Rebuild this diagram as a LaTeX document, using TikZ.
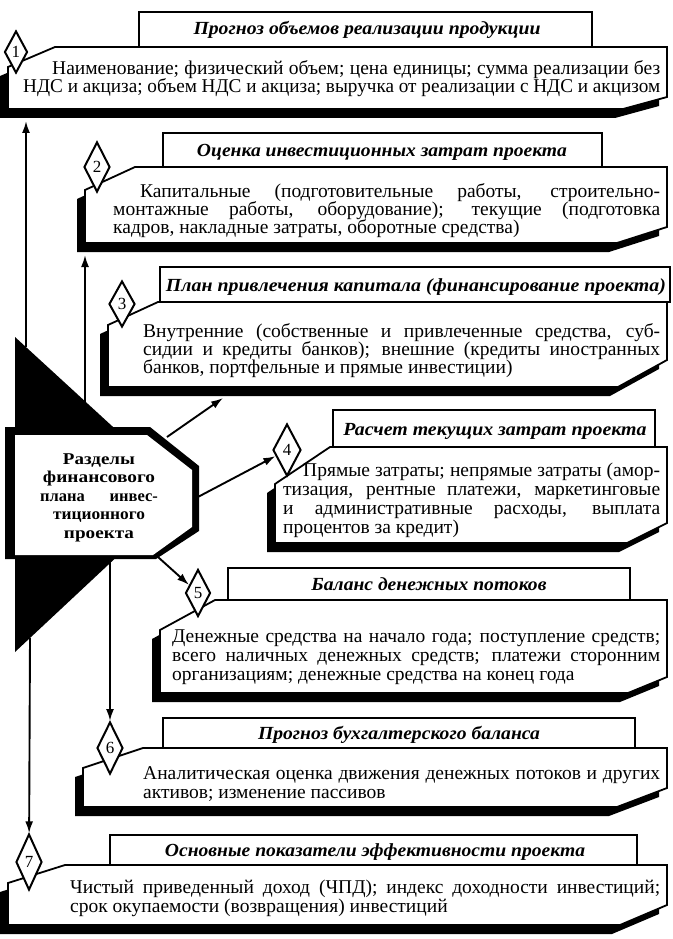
\documentclass[tikz,border=0pt]{standalone}
\usepackage{graphicx}
\usepackage{fontspec}
\setmainfont{Liberation Serif}
\usetikzlibrary{shapes.geometric,arrows.meta}
\newsavebox\linebox
\newcommand\jline[2]{\sbox\linebox{#2}\ifdim\wd\linebox>#1\relax\resizebox{#1}{\height}{#2}\else\makebox[#1][s]{#2}\fi}
\newcommand\fitto[2]{\resizebox{#1}{\height}{#2}}
\newcommand\secbox[8]{%
  \begin{scope}[shift={(-8,9)}]\fill[black] (#1,#4) -- (#1,#5) -- (#6,#2) -- (#3,#2) -- (#3,#7) -- (#8,#4) -- cycle;\end{scope}
  \draw[mainbox] (#1,#4) -- (#1,#5) -- (#6,#2) -- (#3,#2) -- (#3,#7) -- (#8,#4) -- cycle;}
\begin{document}
\begin{tikzpicture}[x=1pt,y=-1pt,
  mainbox/.style={fill=white,draw=black,line width=1.8pt,line join=miter},
  titlebox/.style={fill=white,draw=black,line width=1.8pt},
  ttl/.style={font=\fontsize{18.5}{19}\selectfont\bfseries\itshape,inner sep=0pt,anchor=base},
  body/.style={font=\fontsize{19.5}{20}\selectfont,inner sep=0pt,anchor=base west},
  num/.style={diamond,draw=black,fill=white,line width=2pt,inner sep=0pt,font=\fontsize{17}{17}\selectfont},
  arr/.style={line width=1.9pt,-{Latex[length=12pt,width=8pt]}},
  octtxt/.style={font=\fontsize{16.5}{17}\selectfont\bfseries,inner sep=0pt,anchor=base}
]
\path[use as bounding box, fill=white] (0,0) rectangle (672,939);

% central black triangle and octagon
\fill[black] (15,337) -- (185,493) -- (15,652) -- cycle;
\fill[black] (5,427) -- (150,427) -- (199,466) -- (199,531) -- (156,559) -- (5,559) -- cycle;
\fill[white] (15,435) -- (147,435) -- (192,470) -- (192,527) -- (153,555) -- (15,555) -- cycle;
\node[octtxt] (o1) at (99,464) {\fitto{72pt}{Разделы}};
\node[octtxt] (o2) at (99,482.5) {\fitto{112pt}{финансового}};
\node[octtxt] (o3) at (99,501) {\jline{118pt}{плана инвес-}};
\node[octtxt] (o4) at (99,519.5) {\fitto{92pt}{тиционного}};
\node[octtxt] (o5) at (99,538) {\fitto{70pt}{проекта}};

% section boxes: L T R B C E V S
\secbox{8}{47}{667}{109}{67}{55}{97}{623}
\secbox{85}{167}{667}{243}{190}{135}{227}{617}
\secbox{108}{302}{667}{387}{325}{158}{360}{618}
\secbox{275}{447}{667}{543}{484}{330}{523}{627}
\secbox{160}{600}{667}{693}{630}{215}{677}{628}
\secbox{83}{748}{667}{807}{768}{143}{788}{617}
\secbox{8}{865}{667}{925}{883}{65}{905}{620}

% title boxes
\draw[titlebox] (139,12) rectangle (592,47);
\draw[titlebox] (163,133) rectangle (602,167);
\draw[titlebox] (160,267) rectangle (670,302);
\draw[titlebox] (333,410) rectangle (655,447);
\draw[titlebox] (228,568) rectangle (630,600);
\draw[titlebox] (163,718) rectangle (635,748);
\draw[titlebox] (110,835) rectangle (637,865);

\node[ttl] (h1) at (367,35) {\fitto{347pt}{Прогноз объемов реализации продукции}};
\node[ttl] (h2) at (382,156) {\fitto{370pt}{Оценка инвестиционных затрат проекта}};
\node[ttl] (h3) at (416,291) {\fitto{500pt}{План привлечения капитала (финансирование проекта)}};
\node[ttl] (h4) at (495,435) {\fitto{303pt}{Расчет текущих затрат проекта}};
\node[ttl] (h5) at (429,590) {\fitto{235pt}{Баланс денежных потоков}};
\node[ttl] (h6) at (399,739) {\fitto{282pt}{Прогноз бухгалтерского баланса}};
\node[ttl] (h7) at (375,856) {\fitto{420pt}{Основные показатели эффективности проекта}};

% body texts
\node[body] (t1a) at (52,75) {\jline{608pt}{Наименование; физический объем; цена единицы; сумма реализации без}};
\node[body] (t1b) at (23,93) {\jline{637pt}{НДС и акциза; объем НДС и акциза; выручка от реализации с НДС и акцизом}};

\node[body] (t2a) at (140,197) {\jline{520pt}{Капитальные (подготовительные работы, строительно-}};
\node[body] (t2b) at (113,215) {\jline{547pt}{монтажные работы, оборудование); текущие (подготовка}};
\node[body] (t2c) at (113,233) {кадров, накладные затраты, оборотные средства)};

\node[body] (t3a) at (143,337) {\jline{517pt}{Внутренние (собственные и привлеченные средства, суб-}};
\node[body] (t3b) at (143,355) {\jline{517pt}{сидии и кредиты банков); внешние (кредиты иностранных}};
\node[body] (t3c) at (143,373) {банков, портфельные и прямые инвестиции)};

\node[body] (t4a) at (303,476) {\jline{357pt}{Прямые затраты; непрямые затраты (амор-}};
\node[body] (t4b) at (283,495) {\jline{377pt}{тизация, рентные платежи, маркетинговые}};
\node[body] (t4c) at (283,514) {\jline{377pt}{и административные расходы, выплата}};
\node[body] (t4d) at (283,533) {процентов за кредит)};

\node[body] (t5a) at (172,642) {\jline{488pt}{Денежные средства на начало года; поступление средств;}};
\node[body] (t5b) at (172,661) {\jline{488pt}{всего наличных денежных средств; платежи сторонним}};
\node[body] (t5c) at (172,680) {организациям; денежные средства на конец года};

\node[body] (t6a) at (143,779) {\jline{517pt}{Аналитическая оценка движения денежных потоков и других}};
\node[body] (t6b) at (143,798) {активов; изменение пассивов};

\node[body] (t7a) at (70,893) {\jline{590pt}{Чистый приведенный доход (ЧПД); индекс доходности инвестиций;}};
\node[body] (t7b) at (70,912) {срок окупаемости (возвращения) инвестиций};

% diamonds
\node[num,minimum width=23pt,minimum height=42pt] (d1) at (16,52) {1};
\node[num,minimum width=26pt,minimum height=50pt] (d2) at (97,167) {2};
\node[num,minimum width=26pt,minimum height=46pt] (d3) at (122,304) {3};
\node[num,minimum width=28pt,minimum height=52pt] (d4) at (287,450) {4};
\node[num,minimum width=25pt,minimum height=47pt] (d5) at (198,593) {5};
\node[num,minimum width=26pt,minimum height=52pt] (d6) at (110,748) {6};
\node[num,minimum width=26pt,minimum height=56pt] (d7) at (29,862) {7};

% connectors
\coordinate (s1) at (26,347); \coordinate (e1) at (26,121);
\coordinate (s2) at (85,402); \coordinate (e2) at (85,255);
\coordinate (s3) at (167,437); \coordinate (e3) at (223,398);
\coordinate (s4) at (196,498);
\coordinate (s5) at (158,557);
\coordinate (s6) at (110,558);
\coordinate (s7) at (30,638);
\draw[arr] (s1) -- (e1);
\draw[arr] (s2) -- (e2);
\draw[arr] (s3) -- (e3);
\draw[arr] (s4) -- (d4);
\draw[arr] (s5) -- (d5);
\draw[arr] (s6) -- (d6);
\draw[arr] (s7) -- (d7);
\end{tikzpicture}
\end{document}
